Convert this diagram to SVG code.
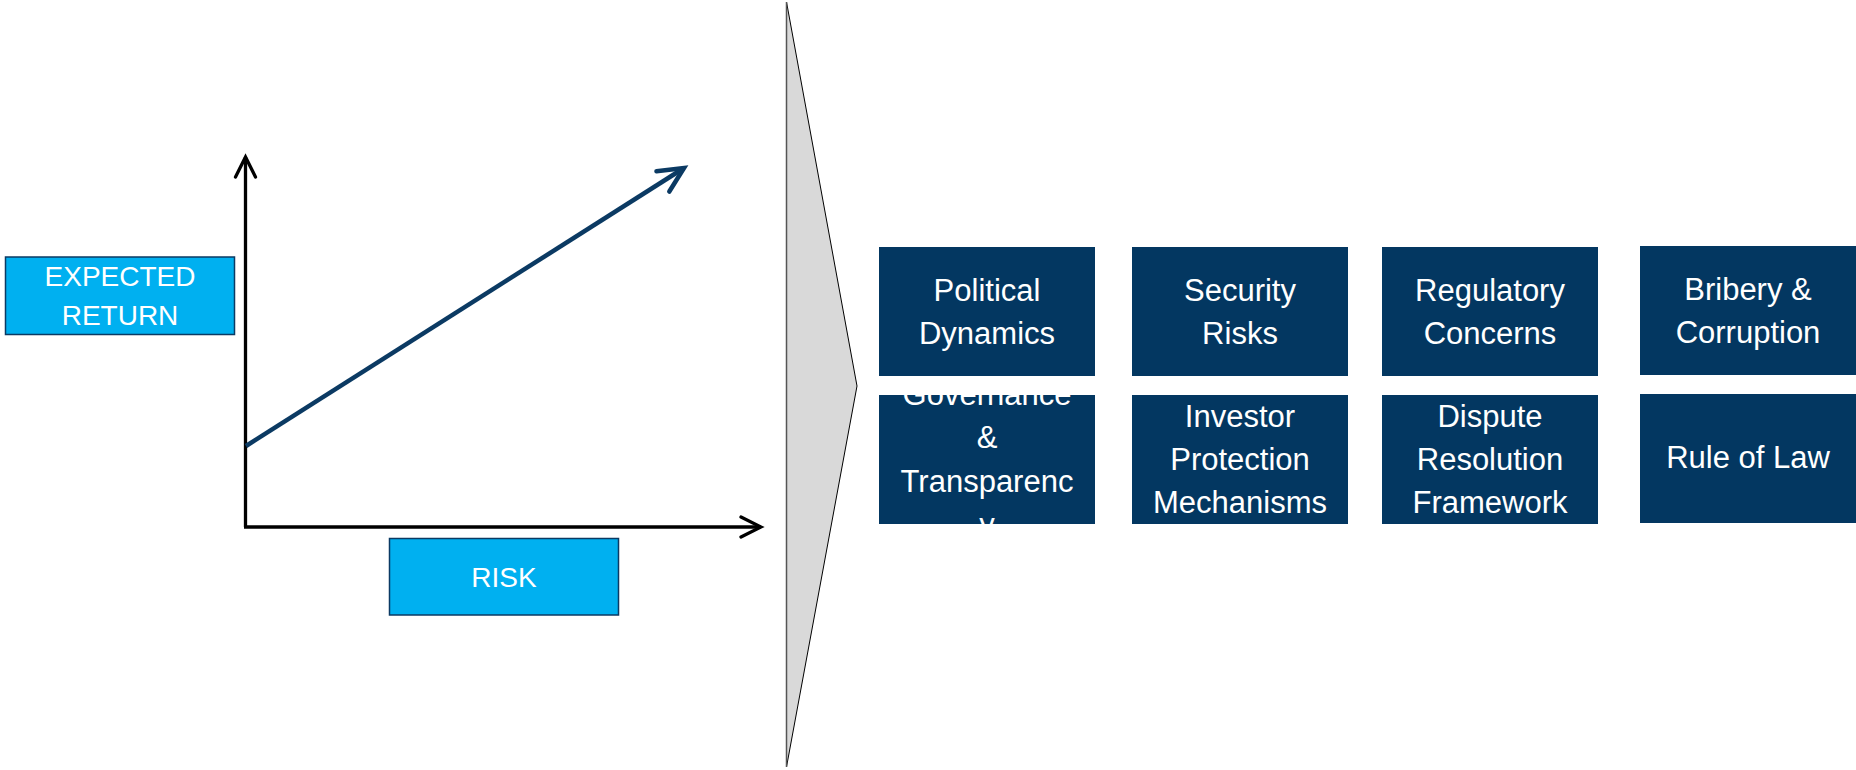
<svg xmlns="http://www.w3.org/2000/svg" width="1856" height="770" viewBox="0 0 1856 770">
  <style>
    .label-box { fill: #00B0F0; stroke: #0B3A63; stroke-width: 1.5; }
    .label-text { font-family: "Liberation Sans", Arial, sans-serif; font-size: 28px; fill: #FFFFFF; text-anchor: middle; }
    .factor { fill: #033761; }
    .factor-text { font-family: "Liberation Sans", Arial, sans-serif; font-size: 31px; fill: #FFFFFF; text-anchor: middle; }
    .axis { stroke: #000000; stroke-width: 3.3; fill: none; }
    .trend { stroke: #0B3A63; stroke-width: 4.5; fill: none; }
  </style>
  <defs>
    <marker id="axis-head" markerUnits="userSpaceOnUse" orient="auto" refX="0" refY="0" markerWidth="30" markerHeight="30" viewBox="-26 -15 30 30" overflow="visible">
      <path d="M -20 -10 L 0 0 L -20 10" fill="none" stroke="#000000" stroke-width="3.3" stroke-linecap="round" stroke-linejoin="miter"/>
    </marker>
    <marker id="trend-head" markerUnits="userSpaceOnUse" orient="auto" refX="0" refY="0" markerWidth="34" markerHeight="34" viewBox="-30 -17 34 34" overflow="visible">
      <path d="M -25 -12 L 0 0 L -25 12" fill="none" stroke="#0B3A63" stroke-width="4.5" stroke-linecap="round" stroke-linejoin="miter"/>
    </marker>
    <clipPath id="clip-governance">
      <rect x="879" y="395" width="216" height="129"/>
    </clipPath>
  </defs>

  <!-- chart axes and risk/return trend line -->
  <g id="connectors">
    <line class="axis" x1="245.5" y1="527" x2="245.5" y2="157" marker-end="url(#axis-head)"/>
    <line class="axis" x1="244" y1="527" x2="761" y2="527" marker-end="url(#axis-head)"/>
    <line class="trend" x1="246" y1="446" x2="684" y2="168" marker-end="url(#trend-head)"/>
  </g>

  <g id="expected-return">
    <rect class="label-box" x="5.5" y="257" width="229" height="77.5"/>
    <text class="label-text" x="120" y="285.7">EXPECTED</text>
    <text class="label-text" x="120" y="325">RETURN</text>
  </g>

  <g id="risk">
    <rect class="label-box" x="389.5" y="538.5" width="229" height="76.5"/>
    <text class="label-text" x="504" y="586.7">RISK</text>
  </g>

  <!-- large grey chevron pointing to the factor grid -->
  <g id="chevron">
    <polygon points="786.5,2 857,386 786.5,767" fill="#D9D9D9" stroke="#000000" stroke-width="1"/>
    <line x1="786.5" y1="2" x2="786.5" y2="767" stroke="#555555" stroke-width="1.5"/>
  </g>

  <g id="political-dynamics">
    <rect class="factor" x="879" y="247" width="216" height="129"/>
    <text class="factor-text" x="987" y="301">Political</text>
    <text class="factor-text" x="987" y="343.5">Dynamics</text>
  </g>

  <g id="security-risks">
    <rect class="factor" x="1132" y="247" width="216" height="129"/>
    <text class="factor-text" x="1240" y="301">Security</text>
    <text class="factor-text" x="1240" y="343.5">Risks</text>
  </g>

  <g id="regulatory-concerns">
    <rect class="factor" x="1382" y="247" width="216" height="129"/>
    <text class="factor-text" x="1490" y="301">Regulatory</text>
    <text class="factor-text" x="1490" y="343.5">Concerns</text>
  </g>

  <g id="bribery-corruption">
    <rect class="factor" x="1640" y="246" width="216" height="129"/>
    <text class="factor-text" x="1748" y="300">Bribery &amp;</text>
    <text class="factor-text" x="1748" y="342.5">Corruption</text>
  </g>

  <g id="governance-transparency">
    <rect class="factor" x="879" y="395" width="216" height="129"/>
    <g clip-path="url(#clip-governance)">
      <text class="factor-text" x="987" y="405.3">Governance</text>
      <text class="factor-text" x="987" y="448.3">&amp;</text>
      <text class="factor-text" x="987" y="491.7">Transparenc</text>
      <text class="factor-text" x="987" y="535">y</text>
    </g>
  </g>

  <g id="investor-protection">
    <rect class="factor" x="1132" y="395" width="216" height="129"/>
    <text class="factor-text" x="1240" y="426.7">Investor</text>
    <text class="factor-text" x="1240" y="470">Protection</text>
    <text class="factor-text" x="1240" y="513.3">Mechanisms</text>
  </g>

  <g id="dispute-resolution">
    <rect class="factor" x="1382" y="395" width="216" height="129"/>
    <text class="factor-text" x="1490" y="426.7">Dispute</text>
    <text class="factor-text" x="1490" y="470">Resolution</text>
    <text class="factor-text" x="1490" y="513.3">Framework</text>
  </g>

  <g id="rule-of-law">
    <rect class="factor" x="1640" y="394" width="216" height="129"/>
    <text class="factor-text" x="1748" y="468.3">Rule of Law</text>
  </g>
</svg>
